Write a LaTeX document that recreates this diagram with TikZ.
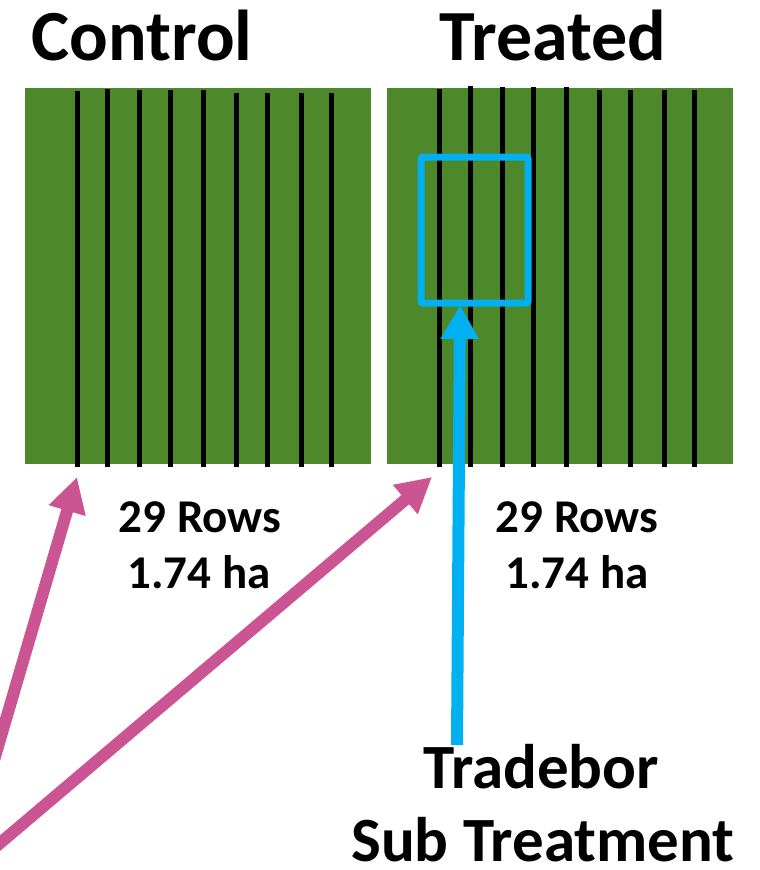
\documentclass[tikz,border=0pt]{standalone}
\usepackage{fontspec}
\setmainfont{Carlito}
\usetikzlibrary{arrows.meta}
\definecolor{fieldgreen}{RGB}{77,137,43}
\definecolor{pinkarrow}{RGB}{203,85,146}
\definecolor{bluearrow}{RGB}{0,176,240}
\begin{document}
\begin{tikzpicture}[x=1pt,y=-1pt,
  fieldbox/.style={fill=fieldgreen, draw=none, minimum width=346pt, minimum height=376pt, inner sep=0pt, outer sep=0pt, anchor=north west},
  rowline/.style={line width=5pt, black},
  titletext/.style={font=\fontsize{72}{80}\selectfont\bfseries, anchor=base, inner sep=0pt},
  infotext/.style={font=\fontsize{47}{56}\selectfont\bfseries, anchor=base, inner sep=0pt},
  subtext/.style={font=\fontsize{63}{72}\selectfont\bfseries, anchor=base, inner sep=0pt},
  pinkarr/.style={pinkarrow, line width=12pt, -{Triangle[length=35pt,width=36pt]}},
  bluearr/.style={bluearrow, line width=12pt, -{Triangle[length=34pt,width=36pt]}},
  subbox/.style={draw=bluearrow, line width=7pt, rounded corners=2pt}
]
\useasboundingbox (0,0) rectangle (760,870);
\clip (0,0) rectangle (760,870);

% fields
\node[fieldbox] (control) at (25,88) {};
\node[fieldbox] (treated) at (387,88) {};

% crop rows
\foreach \x/\t in {77/91,107/89,139/90,170/90,203/90,236/93,267/93,301/93,331/93}
  \draw[rowline] (\x,\t) -- (\x,467);
\foreach \x/\t in {439/89,470/86,502/87,533/87,566/87,599/90,630/90,664/90,694/90}
  \draw[rowline] (\x,\t) -- (\x,467);

% sub treatment box
\draw[subbox] (421,157) rectangle (528,303);
\coordinate (boxbottom) at (460,305);

% titles
\node[titletext] (ctltitle) at (142,60) {Control};
\node[titletext] (trttitle) at (553,60) {Treated};

% info
\node[infotext] (c1) at (200,532) {29 Rows};
\node[infotext] (c2) at (199,588) {1.74 ha};
\node[infotext] (t1) at (577,532) {29 Rows};
\node[infotext] (t2) at (577,588) {1.74 ha};

% sub treatment label
\node[subtext] (trade) at (541,788) {Tradebor};
\node[subtext] (subt) at (543,861) {Sub Treatment};

% blue arrow
\coordinate (bluestart) at (457,745);
\draw[bluearr] (bluestart) -- (boxbottom);

% pink arrows
\coordinate (ctip) at (77,477);
\coordinate (ttip) at (432,477);
\coordinate (p1start) at (-47,900);
\coordinate (p2start) at (-60,894);
\draw[pinkarr] (p1start) -- (ctip);
\draw[pinkarr] (p2start) -- (ttip);
\end{tikzpicture}
\end{document}
